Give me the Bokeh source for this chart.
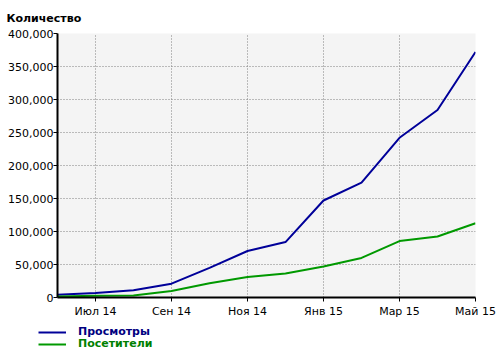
from bokeh.plotting import figure
from bokeh.layouts import column
from bokeh.models import (Range1d, FixedTicker, NumeralTickFormatter, Legend, LegendItem)
from bokeh.embed import file_html
from bokeh.resources import INLINE

months = ["Июн 14", "Июл 14", "Авг 14", "Сен 14", "Окт 14", "Ноя 14",
          "Дек 14", "Янв 15", "Фев 15", "Мар 15", "Апр 15", "Май 15"]
views = [4000, 7000, 11000, 21000, 45000, 70500, 84000, 147000, 174000, 242000, 284000, 372000]
visitors = [1500, 2800, 3200, 9800, 21500, 31000, 36500, 47000, 60000, 85500, 92500, 112500]
y_ticks = [0, 50000, 100000, 150000, 200000, 250000, 300000, 350000, 400000]
x_tick_idx = [1, 3, 5, 7, 9, 11]
series_names = ["Просмотры", "Посетители"]

FONT = "DejaVu Sans"
BLUE, GREEN = "#000099", "#009900"
xs = list(range(len(months)))

p = figure(width=500, height=320, output_backend="svg", toolbar_location=None,
           x_range=Range1d(0, len(months) - 1), y_range=Range1d(0, 400000),
           min_border_left=57, min_border_right=25, min_border_top=33, min_border_bottom=22)
p.frame_align = False
p.outline_line_color = None
p.background_fill_color = "#f4f4f4"
p.border_fill_color = "white"

p.title.text = "Количество"
p.title.text_font = FONT
p.title.text_font_size = "11px"
p.title.text_font_style = "bold"
p.title.text_color = "black"
p.title.align = "left"
p.title.offset = -51
p.title.standoff = 18

for ax in (p.xaxis[0], p.yaxis[0]):
    ax.axis_line_color = "black"
    ax.axis_line_width = 2
    ax.major_tick_line_color = "black"
    ax.major_tick_in = 0
    ax.major_tick_out = 4
    ax.minor_tick_line_color = None
    ax.major_label_text_font = FONT
    ax.major_label_text_font_size = "11px"
    ax.major_label_text_color = "black"

p.xaxis.ticker = FixedTicker(ticks=x_tick_idx)
p.xaxis.major_label_overrides = {i: months[i] for i in x_tick_idx}
p.xaxis.major_label_standoff = 3
p.yaxis.ticker = FixedTicker(ticks=y_ticks)
p.yaxis.formatter = NumeralTickFormatter(format="0,0")
p.yaxis.major_label_standoff = 0

for g in (p.xgrid[0], p.ygrid[0]):
    g.grid_line_color = "#808080"
    g.grid_line_dash = "1 2"
    g.grid_line_width = 1

p.line(xs, views, line_color=BLUE, line_width=2)
p.line(xs, visitors, line_color=GREEN, line_width=2)

# legend strip below the chart
lg = figure(width=500, height=33, output_backend="svg", toolbar_location=None,
            x_range=Range1d(0, 1), y_range=Range1d(-2, -1),
            x_axis_location=None, y_axis_location=None,
            min_border_left=0, min_border_right=0, min_border_top=0, min_border_bottom=0)
lg.frame_align = False
lg.grid.visible = False
lg.outline_line_color = None
lg.background_fill_color = "white"
lg.border_fill_color = "white"
l1 = lg.line(xs, views, line_color=BLUE, line_width=2)
l2 = lg.line(xs, visitors, line_color=GREEN, line_width=2)

def mk_legend(label, r, color, loc):
    leg = Legend(items=[LegendItem(label=label, renderers=[r])], location=loc,
                 orientation="vertical", padding=0, margin=0, spacing=0,
                 glyph_width=28, glyph_height=12, label_height=12, label_standoff=12,
                 border_line_color=None, background_fill_alpha=0)
    leg.label_text_font = FONT
    leg.label_text_font_size = "11px"
    leg.label_text_font_style = "bold"
    leg.label_text_color = color
    return leg

lg.add_layout(mk_legend(series_names[0], l1, "#000080", (38, 15)), "center")
lg.add_layout(mk_legend(series_names[1], l2, "#008000", (38, 3)), "center")

open("out.html", "w").write(file_html(column(p, lg, spacing=0), INLINE))
